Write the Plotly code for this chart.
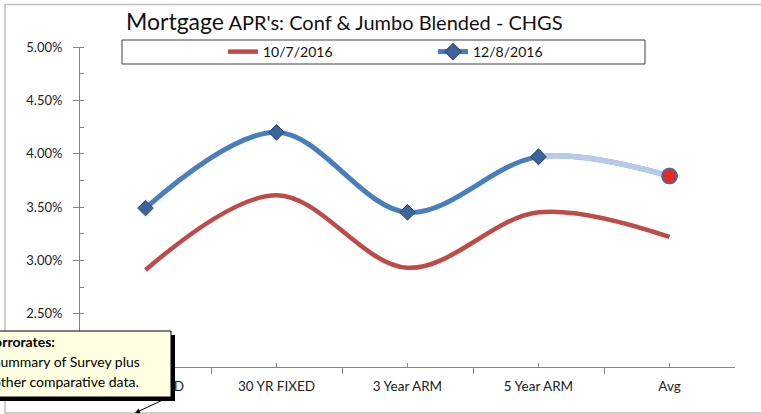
import plotly.graph_objects as go

categories = ["15 YR FIXED", "30 YR FIXED", "3 Year ARM", "5 Year ARM", "Avg"]
series_oct = [2.91, 3.61, 2.93, 3.45, 3.22]
series_dec = [3.49, 4.20, 3.45, 3.97, 3.79]
name_oct = "10/7/2016"
name_dec = "12/8/2016"
y_ticks = [2.0, 2.5, 3.0, 3.5, 4.0, 4.5, 5.0]
y_tick_labels = ["2.00%", "2.50%", "3.00%", "3.50%", "4.00%", "4.50%", "5.00%"]

W, H = 761, 414
L, R, T, B = 80, 26, 47, 47
PW, PH = W - L - R, H - T - B


def px(x):
    return (x - L) / PW


def py(y):
    return (H - B - y) / PH


xs = list(range(len(categories)))
font = "Lato, 'Open Sans', sans-serif"

RED = "#BE4B48"
BLUE = "#4A7EBB"
LIGHT = "#B7CBE8"
DIAM = "#3B659A"
DIAM_LINE = "#2A4A72"

n = len(categories)
sym = ["diamond"] * (n - 1) + ["circle"]
mcol = [DIAM] * (n - 1) + ["#E52A25"]
mline = [DIAM_LINE] * (n - 1) + ["#3F6FB0"]
msize = [12] * (n - 1) + [15]
mlw = [1] * (n - 1) + [1.5]

fig = go.Figure()
fig.add_trace(go.Scatter(x=xs, y=series_oct, name=name_oct, mode="lines",
                         line=dict(color=RED, width=4.5, shape="spline", smoothing=1.0)))
fig.add_trace(go.Scatter(x=xs, y=series_dec, name=name_dec, mode="lines+markers",
                         line=dict(color=BLUE, width=5, shape="spline", smoothing=1.0),
                         marker=dict(symbol=sym, color=mcol, size=msize, opacity=1,
                                     line=dict(color=mline, width=mlw))))
# lighter last segment (clipped on secondary x axis with identical scale)
fig.add_trace(go.Scatter(x=xs, y=series_dec, xaxis="x2", yaxis="y", mode="lines",
                         showlegend=False, hoverinfo="skip",
                         line=dict(color=LIGHT, width=5.5, shape="spline", smoothing=1.0)))
fig.add_trace(go.Scatter(x=xs, y=series_dec, xaxis="x2", yaxis="y", mode="markers",
                         showlegend=False, cliponaxis=False,
                         marker=dict(symbol=sym, color=mcol, size=msize, opacity=1,
                                     line=dict(color=mline, width=mlw))))

d0 = (n - 2 + 0.5) / n

fig.update_layout(
    width=W, height=H,
    margin=dict(l=L, r=R, t=T, b=B, autoexpand=False),
    paper_bgcolor="white", plot_bgcolor="rgba(0,0,0,0)",
    font=dict(family=font, size=13, color="#222222"),
    title=dict(text="<span style='font-size:23px'>Mortgage</span> APR's: Conf &amp; Jumbo Blended - CHGS",
               x=126 / W, xanchor="left", y=1 - 23 / H, yanchor="middle",
               font=dict(family=font, size=20, color="#111111")),
    showlegend=True,
    legend=dict(orientation="h", xref="container", yref="container",
                x=223 / W, xanchor="left", y=1 - 52 / H, yanchor="middle",
                bgcolor="rgba(0,0,0,0)", borderwidth=0,
                entrywidth=165, entrywidthmode="pixels",
                font=dict(family=font, size=14, color="#111111"),
                itemwidth=30),
    xaxis=dict(range=[-0.5, n - 0.5], tickvals=xs, ticktext=categories,
               showgrid=False, zeroline=False, showline=True, linecolor="#868686", linewidth=1,
               ticks="inside", ticklen=4, tickcolor="#868686",
               minor=dict(tickvals=[i - 0.5 for i in range(n + 1)], ticks="outside",
                          ticklen=6, tickcolor="#868686"),
               ticklabelstandoff=7,
               tickfont=dict(family=font, size=13.5, color="#222222"), fixedrange=True),
    xaxis2=dict(domain=[d0, 1], range=[n - 2, n - 0.5], anchor="y", visible=False,
                showgrid=False, zeroline=False),
    yaxis=dict(range=[2.0, 5.0], tickvals=y_ticks, ticktext=y_tick_labels,
               showgrid=False, zeroline=False, showline=True, linecolor="#868686", linewidth=1,
               ticks="outside", ticklen=6, tickcolor="#868686",
               minor=dict(dtick=0.25, ticks="inside", ticklen=4, tickcolor="#868686"),
               ticklabelstandoff=8,
               tickfont=dict(family=font, size=13, color="#222222")),
    shapes=[
        dict(type="rect", xref="paper", yref="paper", x0=px(5), x1=px(W + 20), y0=py(413), y1=py(4.5),
             line=dict(color="#BFBFBF", width=1.5), fillcolor="rgba(0,0,0,0)", layer="below"),
        dict(type="rect", xref="paper", yref="paper", x0=px(122), x1=px(645), y0=py(64), y1=py(40),
             line=dict(color="#404040", width=1), fillcolor="rgba(0,0,0,0)", layer="above"),
        dict(type="rect", xref="paper", yref="paper", x0=px(-6), x1=px(175), y0=py(401), y1=py(335),
             line=dict(width=0), fillcolor="#000000", layer="above"),
        dict(type="rect", xref="paper", yref="paper", x0=px(-10), x1=px(171), y0=py(397), y1=py(331),
             line=dict(color="#000000", width=1), fillcolor="#FFFFE1", layer="above"),
    ],
    annotations=[
        dict(xref="paper", yref="paper", x=px(-17), y=py(341), xanchor="left", yanchor="middle",
             text="<b>Corrorates:</b>", showarrow=False,
             font=dict(family=font, size=14, color="#000000")),
        dict(xref="paper", yref="paper", x=px(-9), y=py(361), xanchor="left", yanchor="middle",
             text="Summary of Survey plus", showarrow=False,
             font=dict(family=font, size=14, color="#000000")),
        dict(xref="paper", yref="paper", x=px(-9), y=py(381), xanchor="left", yanchor="middle",
             text="other comparative data.", showarrow=False,
             font=dict(family=font, size=14, color="#000000")),
        dict(xref="paper", yref="paper", x=px(135), y=py(413), text="", showarrow=True,
             ax=32, ay=-15, arrowhead=2, arrowsize=1, arrowwidth=1, arrowcolor="#000000"),
    ],
)

fig.write_html("out.html", config={"displayModeBar": False},
               post_script="document.body.style.margin='0px';")
